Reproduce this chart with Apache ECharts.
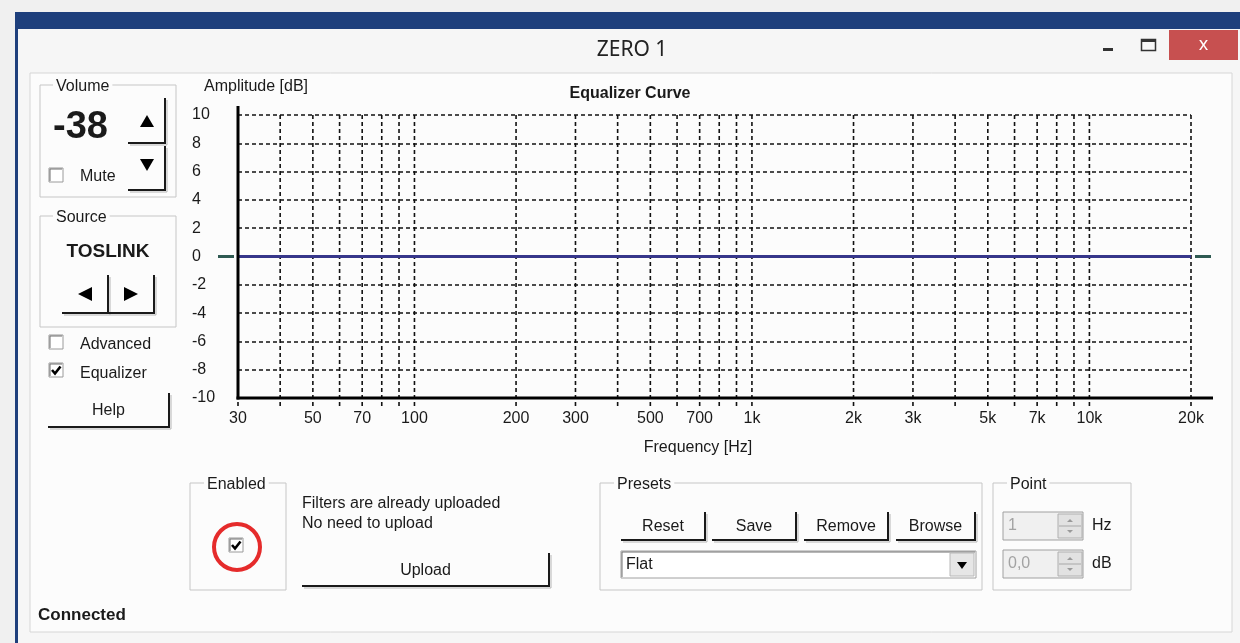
<!DOCTYPE html>
<html><head><meta charset="utf-8">
<script src="https://cdn.jsdelivr.net/npm/echarts@6/dist/echarts.min.js"></script>
<style>html,body{margin:0;padding:0;background:#f0f0f0}#c{width:1240px;height:643px}</style>
</head><body><div id="c"></div><script>
// ---- data ----
const curveFreq = [30, 100, 1000, 10000, 20000];
const curveGain = [0, 0, 0, 0, 0];
const gridFreqs = [30,40,50,60,70,80,90,100,200,300,400,500,600,700,800,900,1000,2000,3000,4000,5000,6000,7000,8000,9000,10000,20000];
const labelFreqs = [30,50,70,100,200,300,500,700,1000,2000,3000,5000,7000,10000,20000];
const labelTexts = ['30','50','70','100','200','300','500','700','1k','2k','3k','5k','7k','10k','20k'];
const yMin = -10, yMax = 10, yStep = 2;
const fMin = 30, fMax = 20000;

// ---- UI helpers ----
const F = '"Liberation Sans", Arial, sans-serif';
const BG = '#fcfcfc';
const TXT = '#1a1a1a';
const G = [];
function rect(x, y, w, h, fill, stroke, lw, z) {
  G.push({type:'rect', z: z || 1, shape:{x, y, width:w, height:h}, style:{fill: fill || 'none', stroke: stroke || null, lineWidth: lw || 1}, silent:true});
}
function line(x1, y1, x2, y2, stroke, lw, z) {
  G.push({type:'line', z: z || 2, shape:{x1, y1, x2, y2}, style:{stroke, lineWidth: lw || 1}, silent:true});
}
function poly(points, fill, z) {
  G.push({type:'polygon', z: z || 3, shape:{points}, style:{fill}, silent:true});
}
function txt(x, y, s, o) {
  o = o || {};
  const st = {text:s, font:(o.bold ? 'bold ' : '') + (o.size || 16) + 'px ' + (o.family || F), fill:o.color || TXT,
    textAlign:o.align || 'left', textVerticalAlign:'middle'};
  if (o.bg) { st.backgroundColor = o.bg; st.padding = [0, 3, 0, 3]; }
  G.push({type:'text', z: o.z || 5, x, y, style: st, silent:true});
}
function groupBox(x, y, w, h, label, lx) {
  rect(x, y, w, h, null, '#c6c6c6', 1, 2);
  txt(lx, y + 2, label, {bg: BG});
}
function button(x, y, w, h, label, o) {
  line(x, y + h, x + w, y + h, '#1a1a1a', 2, 3);
  line(x + w, y, x + w, y + h + 1, '#1a1a1a', 2, 3);
  line(x + 2, y + h + 2, x + w + 2, y + h + 2, '#b5b5b5', 1, 2);
  line(x + w + 2, y + 2, x + w + 2, y + h + 2, '#b5b5b5', 1, 2);
  if (label) txt(x + w / 2, y + h / 2 + 1, label, Object.assign({align:'center'}, o || {}));
}
function checkbox(x, y, checked) {
  rect(x, y, 14, 14, '#ffffff', '#9a9a9a', 1, 3);
  line(x + 1, y + 1, x + 13, y + 1, '#6e6e6e', 1, 3);
  line(x + 1, y + 1, x + 1, y + 13, '#6e6e6e', 1, 3);
  if (checked) G.push({type:'polyline', z:4, shape:{points:[[x + 3, y + 7], [x + 6, y + 10.5], [x + 11.5, y + 3.5]]}, style:{stroke:'#000', lineWidth:2.6, fill:null}, silent:true});
}
function spinner(x, y, value, unit) {
  rect(x, y, 80, 28, '#f0f0f0', '#a0a0a0', 1, 2);
  rect(x + 55, y + 2, 24, 24, '#e2e2e2', '#b0b0b0', 1, 3);
  line(x + 56, y + 14, x + 78, y + 14, '#a8a8a8', 1, 4);
  poly([[x + 64, y + 10], [x + 67, y + 7], [x + 70, y + 10]], '#9a9a9a', 4);
  poly([[x + 64, y + 18], [x + 67, y + 21], [x + 70, y + 18]], '#9a9a9a', 4);
  txt(x + 5, y + 14, value, {color:'#a3a3a3'});
  txt(x + 89, y + 14, unit);
}

// window frame
rect(0, 0, 1240, 643, '#f0f0f0', null, 1, 0);
rect(16, 12, 1224, 631, '#f6f6f6', null, 1, 0);
rect(16, 12, 1224, 17, '#1e3f7c', null, 1, 1);
rect(15, 12, 3, 631, '#1e3f7c', null, 1, 1);
rect(30, 73, 1202, 559, BG, '#d6d6d6', 1, 1);
txt(632, 50, 'ZERO 1', {size:21, family:'"Noto Sans", "Open Sans", sans-serif', align:'center', color:'#222'});
rect(1103, 48, 10, 3, '#333', null, 1, 2);
rect(1141.5, 39.5, 14, 11, null, '#333', 1.5, 2);
rect(1141.5, 39.5, 14, 2.5, '#333', null, 1, 2);
rect(1169, 30, 69, 30, '#c75050', null, 1, 2);
txt(1203.5, 45, 'x', {size:18, color:'#ffffff', align:'center', family:'"Noto Sans", sans-serif'});

// Volume
groupBox(40, 85, 136, 112, 'Volume', 53);
txt(53, 128, '-38', {bold:true, size:38});
button(128, 98, 37, 45);
poly([[140, 127], [147, 115], [154, 127]], '#000');
button(128, 146, 37, 44);
poly([[140, 159], [147, 171], [154, 159]], '#000');
checkbox(49, 168, false);
txt(80, 177, 'Mute');

// Source
groupBox(40, 216, 136, 111, 'Source', 53);
txt(108, 252, 'TOSLINK', {bold:true, size:19, align:'center'});
button(62, 275, 46, 38);
poly([[92, 287], [78, 294], [92, 301]], '#000');
button(108, 275, 46, 38);
poly([[124, 287], [138, 294], [124, 301]], '#000');

checkbox(49, 335, false);
txt(80, 345, 'Advanced');
checkbox(49, 363, true);
txt(80, 374, 'Equalizer');
button(48, 393, 121, 34, 'Help');

// chart texts
txt(204, 87, 'Amplitude [dB]');
txt(630, 94, 'Equalizer Curve', {bold:true, size:16, align:'center'});
txt(698, 448, 'Frequency [Hz]', {align:'center'});

// Enabled
groupBox(190, 483, 96, 107, 'Enabled', 204);
checkbox(229, 538, true);
G.push({type:'circle', z:6, shape:{cx:237, cy:547, r:23}, style:{fill:null, stroke:'#e52b2b', lineWidth:4}, silent:true});
txt(302, 504, 'Filters are already uploaded');
txt(302, 524, 'No need to upload');
button(302, 553, 247, 33, 'Upload');

// Presets
groupBox(600, 483, 382, 107, 'Presets', 614);
button(621, 512, 84, 28, 'Reset');
button(712, 512, 84, 28, 'Save');
button(804, 512, 84, 28, 'Remove');
button(896, 512, 79, 28, 'Browse');
rect(621, 551, 355, 27, '#ffffff', '#a0a0a0', 1, 2);
line(622, 552, 975, 552, '#707070', 1, 3);
line(622, 552, 622, 577, '#707070', 1, 3);
rect(950, 553, 24, 23, '#e6e6e6', '#b8b8b8', 1, 3);
poly([[957, 562], [967, 562], [962, 569]], '#000', 4);
txt(626, 565, 'Flat');

// Point
groupBox(993, 483, 138, 107, 'Point', 1007);
spinner(1003, 512, '1', 'Hz');
spinner(1003, 550, '0,0', 'dB');

txt(38, 615, 'Connected', {bold:true, size:17});

// ---- chart ----
const chart = echarts.init(document.getElementById('c'), null, {renderer:'canvas'});
const option = {
  animation:false,
  backgroundColor:'#f0f0f0',
  graphic:{elements:G},
  grid:{left:238, top:115, width:953, height:283, show:false},
  xAxis:{type:'log', logBase:10, min:fMin, max:fMax,
    axisLine:{show:false}, axisTick:{show:false}, axisLabel:{show:false}, splitLine:{show:false}},
  yAxis:{type:'value', min:yMin, max:yMax, interval:yStep, z:4,
    axisLine:{show:false}, axisTick:{show:false},
    axisLabel:{align:'left', margin:46, color:TXT, fontSize:16, fontFamily:F},
    splitLine:{show:true, lineStyle:{color:'#111', width:1.6, type:[4,3]}}},
  series:[
    {type:'custom', name:'freqGrid', z:3, silent:true,
      data: gridFreqs.map(f => [f, yMax]), encode:{x:0, y:1},
      renderItem(params, api) {
        const f = api.value(0);
        const t = api.coord([f, yMax]), b = api.coord([f, yMin]);
        return {type:'line', shape:{x1:t[0], y1:t[1], x2:b[0], y2:b[1] + 9},
          style:{stroke:'#111', lineWidth:1.6, lineDash:[4,3]}};
      }},
    {type:'custom', name:'freqLabels', z:3, silent:true,
      data: labelFreqs.map((f, i) => [f, yMin, i]), encode:{x:0, y:1},
      renderItem(params, api) {
        const p = api.coord([api.value(0), yMin]);
        return {type:'text', x:p[0], y:p[1] + 21,
          style:{text:labelTexts[api.value(2)], font:'16px ' + F, fill:TXT, textAlign:'center', textVerticalAlign:'middle', align:'center', verticalAlign:'middle'}};
      }},
    {type:'line', name:'EQ', z:5, silent:true, symbol:'none',
      data: curveFreq.map((f, i) => [f, curveGain[i]]),
      lineStyle:{color:'#36368a', width:3}},
    {type:'custom', name:'axes', z:6, silent:true,
      data:[[fMin, yMin]], encode:{x:0, y:1},
      renderItem(params, api) {
        const a = api.coord([fMin, yMax]), b = api.coord([fMin, yMin]), c = api.coord([fMax, yMin]);
        const l0 = api.coord([fMin, 0]), r0 = api.coord([fMax, 0]);
        return {type:'group', children:[
          {type:'line', shape:{x1:a[0], y1:a[1] - 9, x2:b[0], y2:b[1] + 1.5}, style:{stroke:'#000', lineWidth:3}},
          {type:'line', shape:{x1:b[0] - 1.5, y1:b[1], x2:c[0] + 22, y2:c[1]}, style:{stroke:'#000', lineWidth:3}},
          {type:'line', shape:{x1:l0[0] - 20, y1:l0[1], x2:l0[0] - 4, y2:l0[1]}, style:{stroke:'#2f5a52', lineWidth:3}},
          {type:'line', shape:{x1:r0[0] + 4, y1:r0[1], x2:r0[0] + 20, y2:r0[1]}, style:{stroke:'#2f5a52', lineWidth:3}}
        ]};
      }}
  ]
};
chart.setOption(option);
</script></body></html>
